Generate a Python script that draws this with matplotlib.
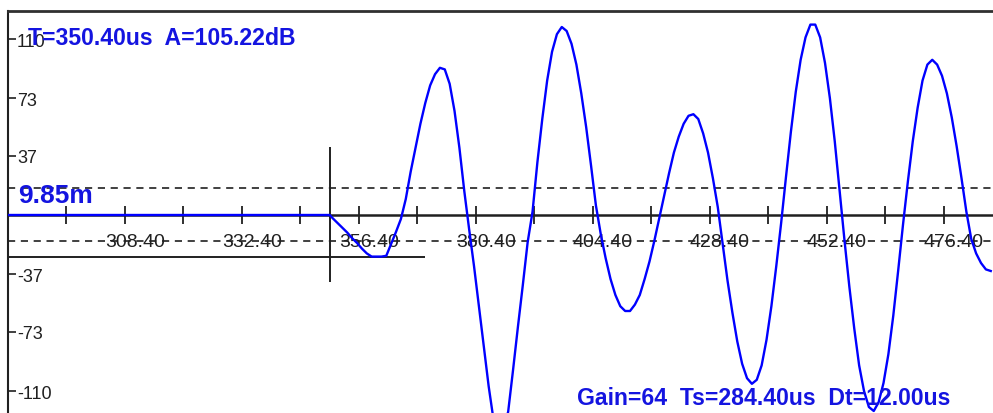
import matplotlib
matplotlib.use("Agg")
import matplotlib.pyplot as plt
import matplotlib.transforms as mtransforms

plt.rcParams['font.family'] = ['Liberation Sans', 'DejaVu Sans']

# ---- data (time in us, amplitude) ----
t_us = [284.4, 350.4] + list(range(351, 487))
amp = [0, 0,
       -2, -5, -8, -11, -14.5, -17.5, -21, -24, -26, -26, -26, -25.5, -18, -10.5, -2.5,   # 351-365
       10, 27, 42, 57, 70, 81, 88, 92, 91, 82, 65, 42, 15,                                # 366-378
       -9, -32, -57, -82, -107, -128, -135, -134, -123, -97, -70, -44, -17,               # 379-391
       2, 33, 60, 84, 102, 113, 117.5, 115, 107, 94, 76, 55, 31, 6,                       # 392-405
       -12, -27, -40, -50, -57, -60, -60, -56, -50, -40, -29, -16, -2,                    # 406-418
       12, 26, 39, 49, 57, 62, 63, 60, 51, 39, 23, 5,                                     # 419-430
       -18, -41, -61, -79, -93, -102, -105.5, -103, -94, -78, -57, -32, -5,               # 431-443
       24, 52, 77, 97, 111, 119, 119, 111, 95, 73, 46, 15,                                # 444-455
       -16, -45, -71, -94, -110, -120, -122.5, -117, -105, -87, -63, -35, -6,             # 456-468
       21, 46, 67, 84, 94, 97, 94, 87, 76, 61, 43, 23, 2,                                 # 469-481
       -15, -24, -30, -34, -35]                                                           # 482-486

y_tick_vals = [110, 73, 37, -37, -73, -110]
y_tick_labels = ['110', '73', '37', '-37', '-73', '-110']
x_minor_ticks = [296.4 + 12 * k for k in range(16)]
x_label_vals = [308.4, 332.4, 356.4, 380.4, 404.4, 428.4, 452.4, 476.4]
x_labels = ['308.40', '332.40', '356.40', '380.40', '404.40', '428.40', '452.40', '476.40']
gate_levels = [17, -16.5]
cursor_t = 350.4
cursor_level = -26
cursor_end_t = 369.9

W, H = 993, 414
fig = plt.figure(figsize=(W / 100, H / 100), dpi=100)
fig.patch.set_facecolor('white')
ax = fig.add_axes([8 / W, 0, (W - 8) / W, (H - 12) / H])
ax.set_xlim(284.4, 486.46)
ax.set_ylim(-123.75, 127.5)
ax.set_facecolor('white')

for s in ['right', 'bottom']:
    ax.spines[s].set_visible(False)
ax.spines['left'].set_color('#202020')
ax.spines['left'].set_linewidth(1.5)
ax.spines['top'].set_color('#303030')
ax.spines['top'].set_linewidth(2.0)

ax.set_xticks([])
ax.set_yticks(y_tick_vals)
ax.tick_params(axis='y', direction='in', length=6, width=1.2, color='#202020',
               labelleft=False)

# y labels (inside the axes)
ylab_tr = mtransforms.offset_copy(ax.get_yaxis_transform(), fig=fig, x=0, y=-4.7, units='points')
for v, lab in zip(y_tick_vals, y_tick_labels):
    ax.text(9 / (W - 8), v, lab, transform=ylab_tr, ha='left', va='baseline',
            fontsize=13, color='#202020')

# zero axis with ticks
ax.axhline(0, color='#202020', lw=1.8, zorder=2)
ax.vlines(x_minor_ticks, -5.6, 5.6, color='#202020', lw=1.3, zorder=2)
for v, lab in zip(x_label_vals, x_labels):
    ax.text(v + 2.0, -19.5, lab, ha='center', va='baseline', fontsize=14,
            color='#202020', zorder=3)

# gate dashed lines
for g in gate_levels:
    ax.axhline(g, color='#202020', lw=1.2, dashes=(4.3, 3.4), zorder=2)

# cursor
ax.vlines(cursor_t, -41.9, 42.5, color='#202020', lw=1.4, zorder=3)
ax.hlines(cursor_level, 284.4, cursor_end_t, color='#202020', lw=1.4, zorder=3)

# waveform
ax.plot(t_us, amp, color='#0000ff', lw=1.7, zorder=4, clip_on=True)

# texts
blue = '#1414e0'
fig.text(28 / W, 1 - 45 / H, 'T=350.40us  A=105.22dB', ha='left', va='baseline',
         fontsize=16.6, fontweight='bold', color=blue)
fig.text(577 / W, 1 - 405 / H, 'Gain=64  Ts=284.40us  Dt=12.00us', ha='left', va='baseline',
         fontsize=16.6, fontweight='bold', color=blue, zorder=5)
fig.text(18 / W, 1 - 203 / H, '9.85m', ha='left', va='baseline',
         fontsize=19, fontweight='bold', color=blue)

fig.savefig('out.png', dpi=100, facecolor='white')
